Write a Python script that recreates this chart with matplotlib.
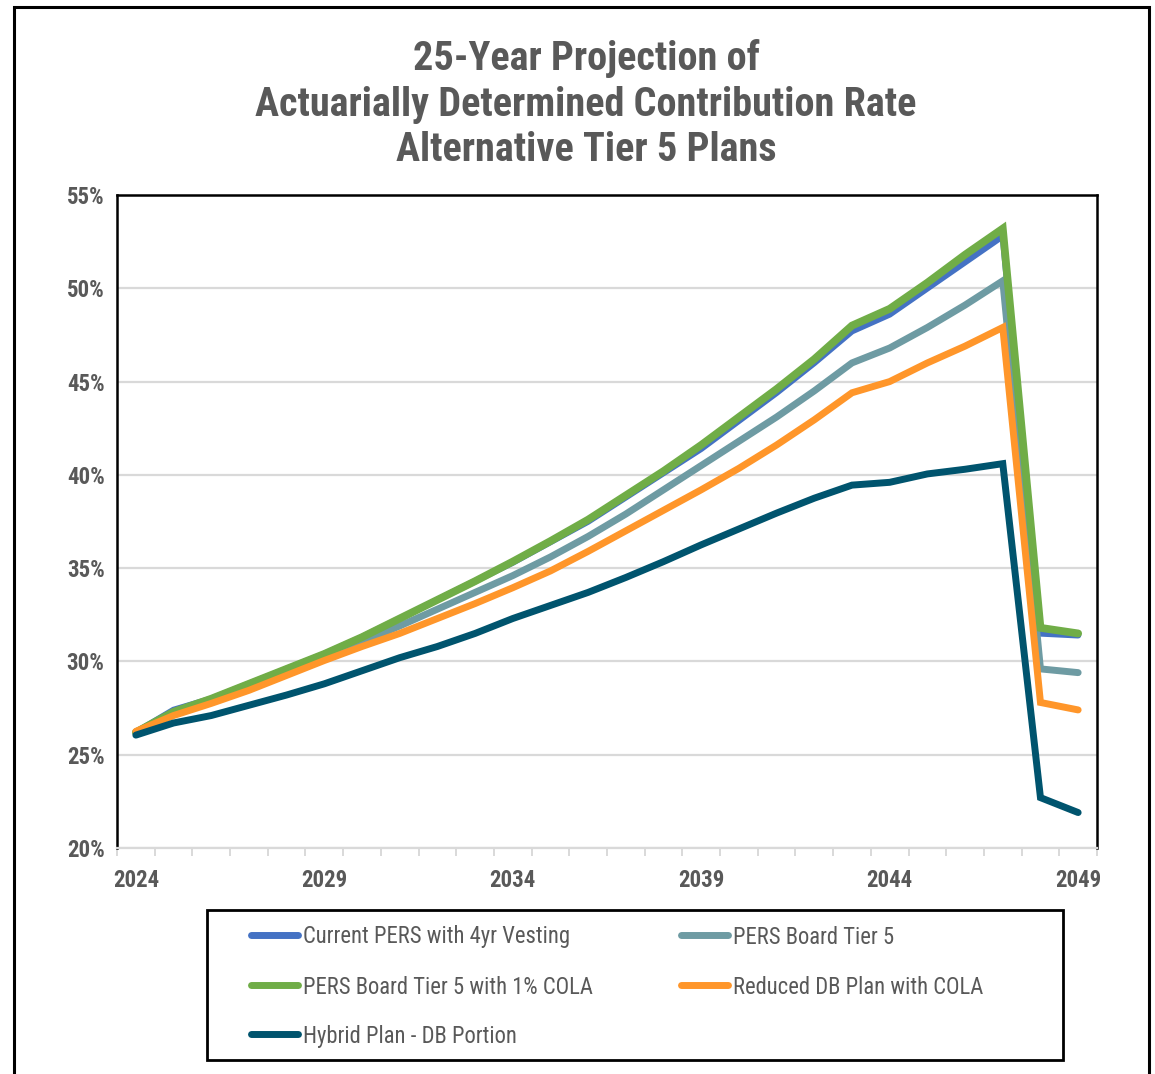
import matplotlib
matplotlib.use("Agg")
import matplotlib.pyplot as plt
from matplotlib import font_manager
from matplotlib.lines import Line2D
from matplotlib.patches import Rectangle
from matplotlib.ticker import FixedLocator

# projected contribution rate (% of pay) per plan, fiscal years 2024-2049
years = list(range(2024, 2050))
current_4yr = [26.2, 27.4, 28.0, 28.8, 29.6, 30.4, 31.3, 32.3, 33.3, 34.3, 35.3, 36.4, 37.5,
               38.8, 40.1, 41.4, 42.9, 44.4, 46.0, 47.7, 48.6, 50.0, 51.4, 52.8, 31.5, 31.4]
board_tier5 = [26.2, 27.2, 27.9, 28.65, 29.45, 30.25, 31.05, 31.9, 32.8, 33.7, 34.6, 35.6, 36.7,
               37.9, 39.2, 40.5, 41.8, 43.1, 44.5, 46.0, 46.8, 47.9, 49.1, 50.4, 29.6, 29.4]
board_tier5_cola = [26.2, 27.3, 28.0, 28.8, 29.6, 30.4, 31.3, 32.3, 33.3, 34.3, 35.35, 36.45, 37.6,
                    38.9, 40.2, 41.6, 43.1, 44.6, 46.2, 48.0, 48.9, 50.3, 51.8, 53.2, 31.8, 31.5]
reduced_db = [26.25, 27.1, 27.75, 28.45, 29.25, 30.05, 30.8, 31.5, 32.3, 33.1, 33.95, 34.85, 35.9,
              37.0, 38.1, 39.2, 40.35, 41.6, 42.95, 44.4, 45.0, 46.0, 46.9, 47.9, 27.8, 27.4]
hybrid_db = [26.05, 26.7, 27.1, 27.65, 28.2, 28.8, 29.5, 30.2, 30.8, 31.5, 32.3, 33.0, 33.7,
             34.5, 35.35, 36.25, 37.1, 37.95, 38.75, 39.45, 39.6, 40.05, 40.3, 40.6, 22.7, 21.9]

series = [
    ("Current PERS with 4yr Vesting", current_4yr, "#4472C4", 4.6),
    ("PERS Board Tier 5", board_tier5, "#6E9BA3", 5.0),
    ("PERS Board Tier 5 with 1% COLA", board_tier5_cola, "#70AD47", 5.6),
    ("Reduced DB Plan with COLA", reduced_db, "#FF962A", 5.0),
    ("Hybrid Plan - DB Portion", hybrid_db, "#00546E", 5.0),
]
y_ticks = [20, 25, 30, 35, 40, 45, 50, 55]
x_label_every = 5

GREY = "#595959"

# prefer a narrow sans face; fall back to condensed DejaVu, then plain Liberation Sans
installed = font_manager.fontManager.ttflist
names = {f.name for f in installed}
narrow = None
for cand in ["Liberation Sans Narrow", "Arial Narrow", "Roboto Condensed", "Open Sans Condensed"]:
    if cand in names:
        narrow = cand
        break
stretch = "normal"
if narrow is None:
    if any(f.name == "DejaVu Sans" and f.stretch == "condensed" for f in installed):
        narrow, stretch = "DejaVu Sans", "condensed"
    else:
        narrow = "Liberation Sans"
plt.rcParams["font.family"] = [narrow, "DejaVu Sans"]
plt.rcParams["font.stretch"] = stretch

W, H = 1155, 1074
fig = plt.figure(figsize=(W / 100, H / 100), dpi=100)


def fx(px):
    return px / W


def fy(py):
    return 1 - py / H


# outer frame
fig.add_artist(Rectangle((fx(14), fy(1090)), fx(1149) - fx(14), fy(7) - fy(1090),
                         transform=fig.transFigure, fill=False, ec="black", lw=2.2))

fig.text(fx(586), fy(104), "25-Year Projection of\nActuarially Determined Contribution Rate\nAlternative Tier 5 Plans",
         ha="center", va="center", fontsize=29, fontweight="bold", color=GREY, linespacing=1.25)

ax = fig.add_axes([fx(117), fy(848), fx(1097) - fx(117), fy(195) - fy(848)])
pos = list(range(len(years)))
for name, vals, color, lw in series:
    ax.plot(pos, vals, color=color, lw=lw, solid_joinstyle="miter", solid_capstyle="round", zorder=3)

ax.set_xlim(-0.5, len(years) - 0.5)
ax.set_ylim(20, 55)
ax.set_yticks(y_ticks)
ax.set_yticklabels([f"{v}%" for v in y_ticks])
ax.yaxis.grid(True, color="#d9d9d9", lw=1.6)
ax.set_axisbelow(True)

major = pos[::x_label_every]
ax.set_xticks(major)
ax.set_xticklabels([str(years[i]) for i in major])
ax.xaxis.set_minor_locator(FixedLocator([p - 0.5 for p in range(len(years) + 1)]))
ax.tick_params(axis="x", which="major", length=0, pad=15, labelsize=16.5, labelcolor=GREY)
ax.tick_params(axis="x", which="minor", length=6, width=1.4, color="#d9d9d9", direction="out")
ax.tick_params(axis="y", length=0, pad=9, labelsize=16.5, labelcolor=GREY)
for lab in ax.get_xticklabels() + ax.get_yticklabels():
    lab.set_fontweight("bold")

for side in ("left", "top", "right"):
    ax.spines[side].set_color("black")
    ax.spines[side].set_linewidth(1.8)
ax.spines["bottom"].set_color("#d9d9d9")
ax.spines["bottom"].set_linewidth(1.6)

# legend box, entries laid out row by row in two columns
fig.add_artist(Rectangle((fx(207), fy(1060)), fx(1063) - fx(207), fy(910) - fy(1060),
                         transform=fig.transFigure, fill=False, ec="black", lw=2.0))
col_x = [248, 678]
row_y = [935, 985, 1034]
for i, (name, vals, color, lw) in enumerate(series):
    cx = col_x[i % 2]
    ry = row_y[i // 2]
    fig.add_artist(Line2D([fx(cx + 3), fx(cx + 50)], [fy(ry), fy(ry)], transform=fig.transFigure,
                          color=color, lw=5, solid_capstyle="round"))
    fig.text(fx(cx + 55), fy(ry + 2), name, ha="left", va="center", fontsize=16.3, color=GREY)

fig.savefig("out.png", dpi=100)
